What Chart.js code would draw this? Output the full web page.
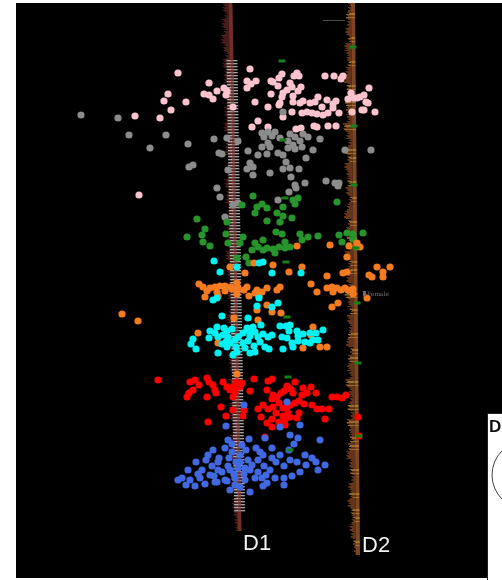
<!DOCTYPE html>
<html>
<head>
<meta charset="utf-8">
<script src="https://cdn.jsdelivr.net/npm/chart.js@4/dist/chart.umd.min.js"></script>
<style>
  html, body { margin: 0; padding: 0; background: #fff; overflow: hidden; }
  canvas { display: block; }
</style>
</head>
<body>
<canvas id="c" width="502" height="580"></canvas>
<script>
// Column names and their labels
const columns = ['D1', 'D2'];
const groupNames = ['pink', 'gray', 'green', 'orange', 'cyan', 'red', 'blue'];

// Point clouds, one array per group: [position, depth]
const pink = [
  [178,73],[209,83],[168,94],[164,101],[186,102],[204,94],[209,95],[213,99],[217,91],[171,110],[135,116],[160,118],[139,195],
  [224,88],[227,91],[226,95],[233,107],
  [250,69],[282,74],[279,78],[273,82],[271,81],[297,73],[299,76],[294,76],[247,81],[256,81],[251,84],[247,88],[278,86],
  [290,83],[292,87],[301,87],[287,90],[283,93],[298,91],[325,76],[334,76],[343,76],[341,79],[369,88],[271,94],[282,97],
  [293,96],[318,97],[310,103],[315,102],[351,93],[357,98],[364,95],[360,97],[354,98],[348,99],[366,102],[368,103],
  [255,102],[280,103],[293,102],[300,103],[303,101],[327,100],[336,101],[333,104],[268,107],[279,105],[283,117],[292,112],
  [302,113],[307,112],[312,113],[317,114],[323,115],[328,113],[339,113],[352,112],[362,110],[364,110],[375,112],[333,108],
  [322,107],[258,121],[252,127],[268,127],[296,129],[301,128],[314,126],[317,127],[328,126],[336,126]
];
const gray = [
  [81,115],[118,118],[129,135],[150,148],[166,135],[188,144],[214,139],[189,167],[193,165],[217,188],[219,153],
  [283,112],[227,138],[238,141],[262,133],[268,132],[275,132],[264,137],[272,136],[280,138],[290,134],[295,137],[303,134],
  [308,137],[320,139],[268,143],[262,147],[288,141],[300,141],[293,145],[248,151],[270,147],[288,148],[295,149],[302,147],
  [313,150],[345,150],[371,150],[258,155],[267,154],[278,153],[283,155],[306,158],[222,154],[250,163],[253,167],[247,169],
  [286,162],[299,169],[283,169],[290,168],[228,170],[253,175],[270,173],[291,177],[295,185],[305,183],[326,181],[335,183],
  [339,183],[338,186],[296,188],[289,192],[220,197],[238,203],[225,217],[278,200],[233,205]
];
const green = [
  [253,196],[298,198],[293,200],[337,202],[257,207],[262,204],[267,208],[283,207],[295,204],[242,205],[255,213],[277,213],
  [283,216],[292,218],[197,219],[227,222],[267,221],[280,222],[205,229],[276,232],[282,234],[187,237],[202,235],[226,234],
  [243,237],[300,234],[308,237],[318,236],[339,235],[347,233],[353,234],[363,233],[203,242],[228,243],[240,243],[255,243],
  [263,240],[285,242],[302,240],[342,242],[353,239],[210,246],[258,247],[267,248],[273,249],[279,247],[285,248],[290,247],
  [252,250],[263,250],[275,253],[237,258],[246,257],[249,263],[356,247]
];
const orange = [
  [297,246],[330,245],[349,246],[357,243],[360,247],[347,257],[273,265],[289,272],[302,267],[230,267],[245,273],[254,263],
  [327,276],[343,273],[347,272],[369,275],[377,267],[383,272],[390,267],[383,277],[372,277],[199,284],[203,287],[210,288],
  [215,287],[220,286],[225,286],[231,287],[237,283],[238,288],[247,287],[257,290],[262,292],[267,288],[277,290],[280,287],
  [207,291],[217,292],[225,291],[232,289],[244,290],[255,293],[205,297],[218,296],[237,294],[249,296],[259,296],[311,284],
  [317,292],[327,288],[332,287],[337,288],[341,290],[348,290],[353,289],[345,288],[333,292],[332,307],[338,303],[367,298],
  [353,294],[122,314],[138,321],[267,305],[257,310],[272,312],[281,313],[234,318],[258,320],[313,327],
  [198,333],[311,335],[218,343],[303,348],[320,347],[327,347],[237,374]
];
const cyan = [
  [214,261],[220,272],[237,267],[263,262],[259,263],[272,273],[301,273],[213,300],[217,298],[259,298],[272,307],[278,303],[257,306],
  [222,316],[248,318],[261,325],[210,331],[215,333],[217,327],[224,328],[227,331],[232,329],[193,339],[191,344],[196,349],
  [209,338],[218,337],[223,335],[228,337],[226,342],[230,343],[235,340],[238,337],[243,333],[249,331],[250,336],[255,332],
  [258,337],[263,334],[268,337],[272,335],[247,328],[253,327],[280,326],[286,326],[290,325],[289,331],[297,331],[303,334],
  [310,333],[316,333],[323,330],[318,340],[222,344],[236,347],[243,343],[248,341],[254,346],[260,342],[265,347],[269,349],
  [283,349],[292,343],[293,347],[298,341],[305,342],[310,343],[313,340],[282,337],[287,338],[298,336],[237,352],[218,353],
  [250,353],[255,352],[233,355],[227,347],[245,348]
];
const red = [
  [158,380],[190,382],[195,380],[199,385],[193,390],[189,393],[187,397],[207,378],[209,382],[213,385],[215,390],[207,397],
  [216,393],[223,382],[227,387],[230,390],[233,387],[235,392],[233,397],[240,387],[242,383],[236,382],[254,379],[250,391],
  [268,381],[272,379],[267,390],[273,395],[277,397],[281,393],[284,391],[287,386],[291,389],[295,382],[293,393],[303,388],
  [307,393],[311,387],[316,393],[302,395],[272,399],[263,405],[258,409],[268,409],[273,407],[279,403],[283,408],[287,407],
  [290,405],[295,403],[299,401],[304,404],[312,405],[317,409],[322,409],[329,409],[332,397],[337,397],[342,398],[346,395],
  [276,413],[283,416],[288,413],[290,417],[299,413],[297,418],[261,417],[272,419],[285,420],[279,422],[267,423],[272,427],
  [285,425],[325,419],[358,417],[359,436],[265,437],[221,407],[226,416],[208,422],[243,416],[244,410],[233,410]
];
const blue = [
  [244,405],[287,402],[226,426],[280,427],[300,425],[290,435],[249,439],[265,438],[298,438],
  [213,450],[225,448],[232,452],[240,455],[246,450],[206,460],[196,462],[188,470],[182,478],[190,480],[200,478],[210,475],
  [218,470],[228,466],[236,462],[245,468],[252,465],[258,460],[264,466],[270,470],[276,462],[284,466],[290,460],[297,462],
  [305,455],[312,458],[325,465],[318,470],[300,472],[292,476],[284,478],[275,478],[266,475],[255,478],[245,480],[235,478],
  [225,480],[215,482],[205,484],[195,486],[230,490],[240,487],[250,492],[263,486],[267,483],[222,472],[212,466],[202,470],
  [234,474],[244,474],[258,472],[238,468],[229,458],[219,458],[263,455],[280,455],[289,450],[294,444],[320,440],[272,448],
  [256,448],[232,444],[218,462],[208,455],[186,485],[178,480],[284,485],[306,465],[316,462],[217,482],[227,481],[235,485],
  [248,460],[260,452],[242,445],[228,440],[250,470],[262,478],[272,458],[198,474],[214,476],[230,470],[240,462]
];

// Group medians marked beside each column
const medianD1 = [[282,61],[283,140],[285,198],[286,262],[287,317],[288,377],[290,450]];
const medianD2 = [[353,47],[354,126],[354,185],[356,248],[357,303],[358,363],[359,436]];

// Density profiles of the two column strips (8-unit bins, top to bottom)
const d1Profile = [6,4,7,5,8,6,4,7,5,6,3,5,4,6,5,7,4,5,6,3,5,4,7,5,6,4,5,3,6,5,4,7,5,6,4,5,6,3,5,7,4,6,5,4,6,5,3,7,5,4,6,5,4,3,6,5,7,4,5,6,4,3,5,4,3,2];
const d2Profile = [3,5,4,6,3,7,5,4,6,8,5,4,7,6,5,9,6,4,7,5,8,6,5,7,4,6,9,5,7,6,4,8,5,6,7,5,9,6,4,7,5,6,8,4,6,7,5,9,6,5,7,4,8,6,5,7,9,6,5,4,7,6,8,5,4,6,5,3,2];
const d2Tone    = [0,1,0,0,1,0,0,1,0,0,1,0,1,0,0,1,0,0,1,1,0,0,1,0,1,0,0,1,0,1,0,0,1,1,0,0,1,0,1,0,0,1,0,1,1,0,0,1,0,0,1,0,1,0,1,1,0,0,1,0,0,1,0,1,1,0,0,1,0];

// Layout of the strips and labels (axis units)
const strips = {
  d1: { top: 3, bottom: 530, xTop: 230.5, xBottom: 239.5, combTop: 60, combBottom: 510 },
  d2: { top: 3, bottom: 555, xTop: 355, xBottom: 360 }
};
const labelPos = { D1: [243, 550], D2: [362, 552] };

const colors = {
  pink: '#fcc3ce', gray: '#8c8c8c', green: '#27952b', orange: '#f47b20',
  cyan: '#00f2f2', red: '#ff0000', blue: '#4169e1', median: '#17801a'
};

const toXY = arr => arr.map(([x, y]) => ({ x, y }));
const series = { pink, gray, green, orange, cyan, red, blue };

const stage = {
  id: 'stage',
  beforeDraw(chart) {
    const { ctx, chartArea: a } = chart;
    ctx.save();
    ctx.fillStyle = '#000';
    ctx.fillRect(a.left, a.top, a.right - a.left, a.bottom - a.top);
    ctx.restore();
  },
  beforeDatasetsDraw(chart) {
    const { ctx, scales: { x, y } } = chart;
    const span = (a, b) => x.getPixelForValue(b) - x.getPixelForValue(a);
    ctx.save();
    // D1 strip
    const s1 = strips.d1;
    const c1 = v => s1.xTop + (v - s1.top) * (s1.xBottom - s1.xTop) / (s1.bottom - s1.top);
    const jag = [0, 2, 1, 3, 0, 1, 2, 0];
    d1Profile.forEach((w, i) => {
      for (let r = 0; r < 8; r++) {
        const v = s1.top + i * 8 + r;
        if (v > s1.bottom) break;
        const py = y.getPixelForValue(v);
        const cx = c1(v);
        const ww = Math.max(0, w - jag[r]);
        ctx.fillStyle = '#4a1c18';
        ctx.fillRect(x.getPixelForValue(cx - 2 - ww), py, span(cx - 2 - ww, cx - 2), 1);
        ctx.fillStyle = '#6e2f2a';
        ctx.fillRect(x.getPixelForValue(cx - 2), py, span(cx - 2, cx + 2), 1);
      }
    });
    // comb of ticks over the middle of D1
    for (let v = s1.combTop; v <= s1.combBottom; v += 3) {
      const py = y.getPixelForValue(v);
      const cx = c1(v);
      ctx.fillStyle = 'rgba(210,210,210,0.78)';
      ctx.fillRect(x.getPixelForValue(cx - 5), py, span(cx - 5, cx + 6), 1);
      ctx.fillStyle = 'rgba(110,110,110,0.55)';
      ctx.fillRect(x.getPixelForValue(cx - 5), py + 1, span(cx - 5, cx + 6), 1);
    }
    for (let v = s1.combTop; v <= s1.combBottom; v++) {
      const py = y.getPixelForValue(v);
      const cx = c1(v);
      ctx.fillStyle = 'rgba(105,42,38,0.55)';
      ctx.fillRect(x.getPixelForValue(cx - 1), py, span(cx - 1, cx + 2), 1);
    }
    // D2 strip
    const s2 = strips.d2;
    const r2 = v => s2.xTop + (v - s2.top) * (s2.xBottom - s2.xTop) / (s2.bottom - s2.top);
    d2Profile.forEach((w, i) => {
      for (let r = 0; r < 8; r++) {
        const v = s2.top + i * 8 + r;
        if (v > s2.bottom) break;
        const py = y.getPixelForValue(v);
        const rx = r2(v);
        const ww = Math.max(0, w - jag[(r + i) % 8]);
        const hi = d2Tone[i] && (r === 2 || r === 3 || r === 6);
        ctx.fillStyle = hi ? '#9a6a2a' : '#633419';
        ctx.fillRect(x.getPixelForValue(rx - 4 - ww), py, span(rx - 4 - ww, rx - 4), 1);
        ctx.fillStyle = hi ? '#a8742c' : '#7d4622';
        ctx.fillRect(x.getPixelForValue(rx - 4), py, span(rx - 4, rx), 1);
      }
    });
    // faint reference tick near the top of D2
    ctx.strokeStyle = '#4a4a4a';
    ctx.lineWidth = 1;
    ctx.beginPath();
    ctx.moveTo(x.getPixelForValue(323), y.getPixelForValue(20) + 0.5);
    ctx.lineTo(x.getPixelForValue(345), y.getPixelForValue(20) + 0.5);
    ctx.stroke();
    ctx.restore();
  },
  afterDraw(chart) {
    const { ctx, scales: { x, y } } = chart;
    ctx.save();
    // column labels
    ctx.fillStyle = '#f2f2f2';
    ctx.font = '22px "Liberation Sans", Arial, sans-serif';
    ctx.textBaseline = 'alphabetic';
    columns.forEach(name => {
      const [lx, ly] = labelPos[name];
      ctx.fillText(name, x.getPixelForValue(lx), y.getPixelForValue(ly));
    });
    // small series tag
    ctx.fillStyle = '#6e6e6e';
    ctx.fillRect(x.getPixelForValue(363), y.getPixelForValue(291), 3, 5);
    ctx.fillStyle = '#7a7a7a';
    ctx.font = '6px "DejaVu Serif", serif';
    ctx.fillText('Female', x.getPixelForValue(367), y.getPixelForValue(296));
    // legend panel at the lower right
    const lx = x.getPixelForValue(487), ly = y.getPixelForValue(413);
    ctx.fillStyle = '#ffffff';
    ctx.fillRect(lx, ly, 40, 200);
    ctx.strokeStyle = '#222';
    ctx.lineWidth = 1;
    ctx.strokeRect(lx + 0.5, ly + 0.5, 40, 200);
    ctx.fillStyle = '#111';
    ctx.font = 'bold 17px "Liberation Sans", Arial, sans-serif';
    ctx.fillText('D', lx + 2, ly + 19);
    ctx.strokeStyle = '#444';
    ctx.beginPath();
    ctx.arc(lx + 39, ly + 62, 34, 0, Math.PI * 2);
    ctx.stroke();
    ctx.restore();
  }
};

const datasets = [
  {
    label: 'median D1',
    data: toXY(medianD1),
    pointStyle: 'line', pointRadius: 3.5, pointBorderWidth: 3,
    borderColor: colors.median, backgroundColor: colors.median
  },
  {
    label: 'median D2',
    data: toXY(medianD2),
    pointStyle: 'line', pointRadius: 3.5, pointBorderWidth: 3,
    borderColor: colors.median, backgroundColor: colors.median
  }
].concat(groupNames.slice().reverse().map(name => ({
  label: name,
  data: toXY(series[name]),
  pointRadius: 3.6,
  pointBorderWidth: 0,
  backgroundColor: colors[name],
  borderColor: colors[name]
})));

new Chart(document.getElementById('c'), {
  type: 'scatter',
  data: { datasets },
  options: {
    responsive: false,
    devicePixelRatio: 1,
    animation: false,
    layout: { autoPadding: false, padding: { left: 16, top: 3, right: 0, bottom: 2 } },
    plugins: { legend: { display: false }, tooltip: { enabled: false } },
    scales: {
      x: { type: 'linear', min: 16, max: 502, display: false },
      y: { type: 'linear', min: 3, max: 578, reverse: true, display: false }
    }
  },
  plugins: [stage]
});
</script>
</body>
</html>
